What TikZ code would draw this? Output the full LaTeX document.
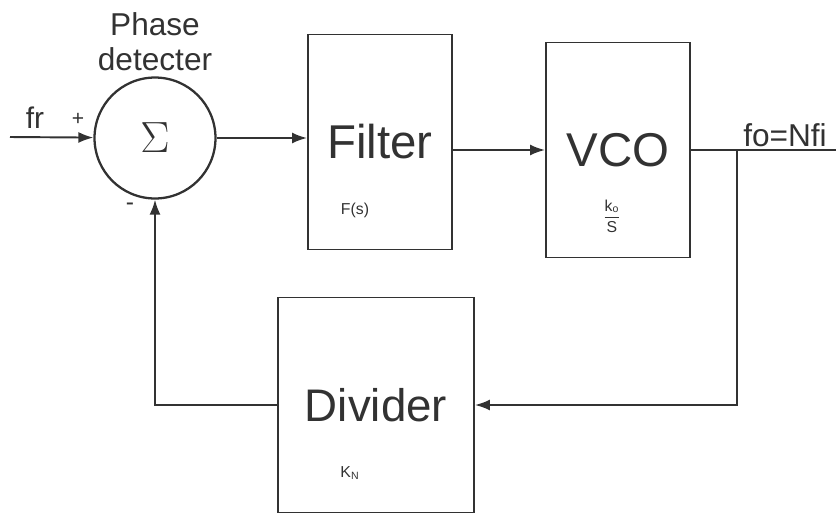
\documentclass[tikz,border=0pt]{standalone}
\usepackage{fontspec}
\usepackage{amsmath}
\setmainfont{Liberation Sans}
\usetikzlibrary{arrows.meta, positioning, calc}
\definecolor{cInk}{RGB}{50,50,50}
\tikzset{
    sumjunc/.style  ={circle, draw=cInk, line width=1.3pt, minimum size=2.42cm, inner sep=0pt, text=cInk},
    block/.style    ={rectangle, draw=cInk, line width=1.1pt, minimum width=2.88cm, minimum height=4.3cm, text=cInk, font=\fontsize{27}{30}\selectfont},
    sublbl/.style   ={text=cInk, font=\fontsize{9}{10}\selectfont, inner sep=1pt},
    siglbl/.style   ={text=cInk, font=\fontsize{17}{20}\selectfont, inner sep=1pt},
    flowline/.style ={line width=1.1pt, draw=cInk},
    flowarrow/.style={-{Latex[length=3mm, width=2.2mm]}, line width=1.1pt, draw=cInk},
}
\begin{document}
\begin{tikzpicture}[x=0.02cm, y=-0.02cm]
    \useasboundingbox (0,0) rectangle (836,515);
    % blocks
    \node[sumjunc] (pd) at (155,138) {\fontsize{32}{34}\selectfont$\Sigma$};
    \node[siglbl, align=center, font=\fontsize{18}{20}\selectfont, above=2pt of pd] (pdlbl) {Phase\\detecter};
    \node[block] (flt) at (380,142) {Filter};
    \node[block] (vco) at (618,150) {VCO};
    \node[block, minimum width=3.92cm, font=\fontsize{26}{30}\selectfont] (dvd) at (376,405) {Divider};
    \node[sublbl] (fs) at ($(flt)+(-25,68)$) {F(s)};
    \node[sublbl] (ko) at ($(vco)+(-6,66)$) {$\dfrac{\text{k}_\text{o}}{\text{S}}$};
    \node[sublbl] (kn) at ($(dvd)+(-26,68)$) {K\textsubscript{N}};
    % signal labels
    \node[siglbl] (frlbl) at (35,118) {fr};
    \node[sublbl, font=\fontsize{12}{12}\selectfont] (plus) at (78,119) {+};
    \node[sublbl, font=\fontsize{14}{14}\selectfont] (minus) at (130,207) {-};
    \node[siglbl, font=\fontsize{18}{20}\selectfont, anchor=base] (folbl) at (785,146) {fo=Nfi};
    % connectors
    \coordinate (in) at (10,137);
    \coordinate (out) at (836,150);
    \coordinate (br) at (737,150);
    \draw[flowarrow](in) -- (pd);
    \draw[flowarrow](pd.east) -- (pd.east -| flt.west);
    \draw[flowarrow](flt.east |- vco) -- (vco.west);
    \draw[flowline](vco.east) -- (out);
    \draw[flowarrow](br) |- (dvd.east);
    \draw[flowarrow](dvd.west) -| (pd.south);
\end{tikzpicture}
\end{document}
